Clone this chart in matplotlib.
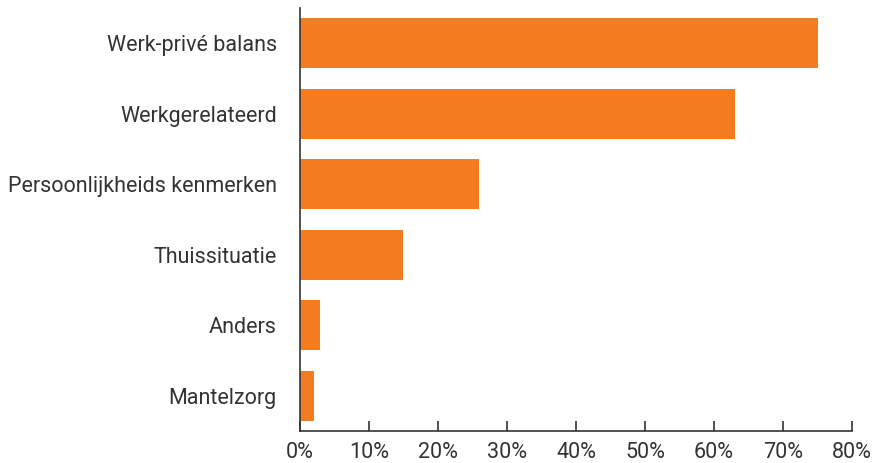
import matplotlib
matplotlib.use("Agg")
import matplotlib.pyplot as plt
from matplotlib.ticker import PercentFormatter

plt.rcParams['font.family'] = ['Roboto', 'DejaVu Sans']

categories = ["Werk-privé balans", "Werkgerelateerd", "Persoonlijkheids kenmerken",
              "Thuissituatie", "Anders", "Mantelzorg"]
values = [75, 63, 26, 15, 3, 2]

ORANGE = "#F47C20"
TEXT = "#333333"

fig = plt.figure(figsize=(8.74, 4.63), dpi=100)
ax = fig.add_axes([0.343, 0.069, 0.632, 0.914])

pos = list(range(len(categories)))
ax.barh(pos, values, height=0.71, color=ORANGE)
ax.set_ylim(len(categories) - 0.5, -0.5)
ax.set_xlim(0, 80)
ax.set_yticks(pos)
ax.set_yticklabels(categories, fontsize=15.5, color=TEXT)
ax.set_xticks(range(0, 81, 10))
ax.xaxis.set_major_formatter(PercentFormatter(decimals=0))

for s in ["top", "right"]:
    ax.spines[s].set_visible(False)
for s in ["left", "bottom"]:
    ax.spines[s].set_color("#333333")
    ax.spines[s].set_linewidth(1.2)

ax.tick_params(axis="y", length=0, pad=16.5)
ax.tick_params(axis="x", direction="in", length=7, width=1.2, color="#333333",
               labelsize=15.5, labelcolor=TEXT, pad=8)

fig.savefig("out.png", dpi=100)
